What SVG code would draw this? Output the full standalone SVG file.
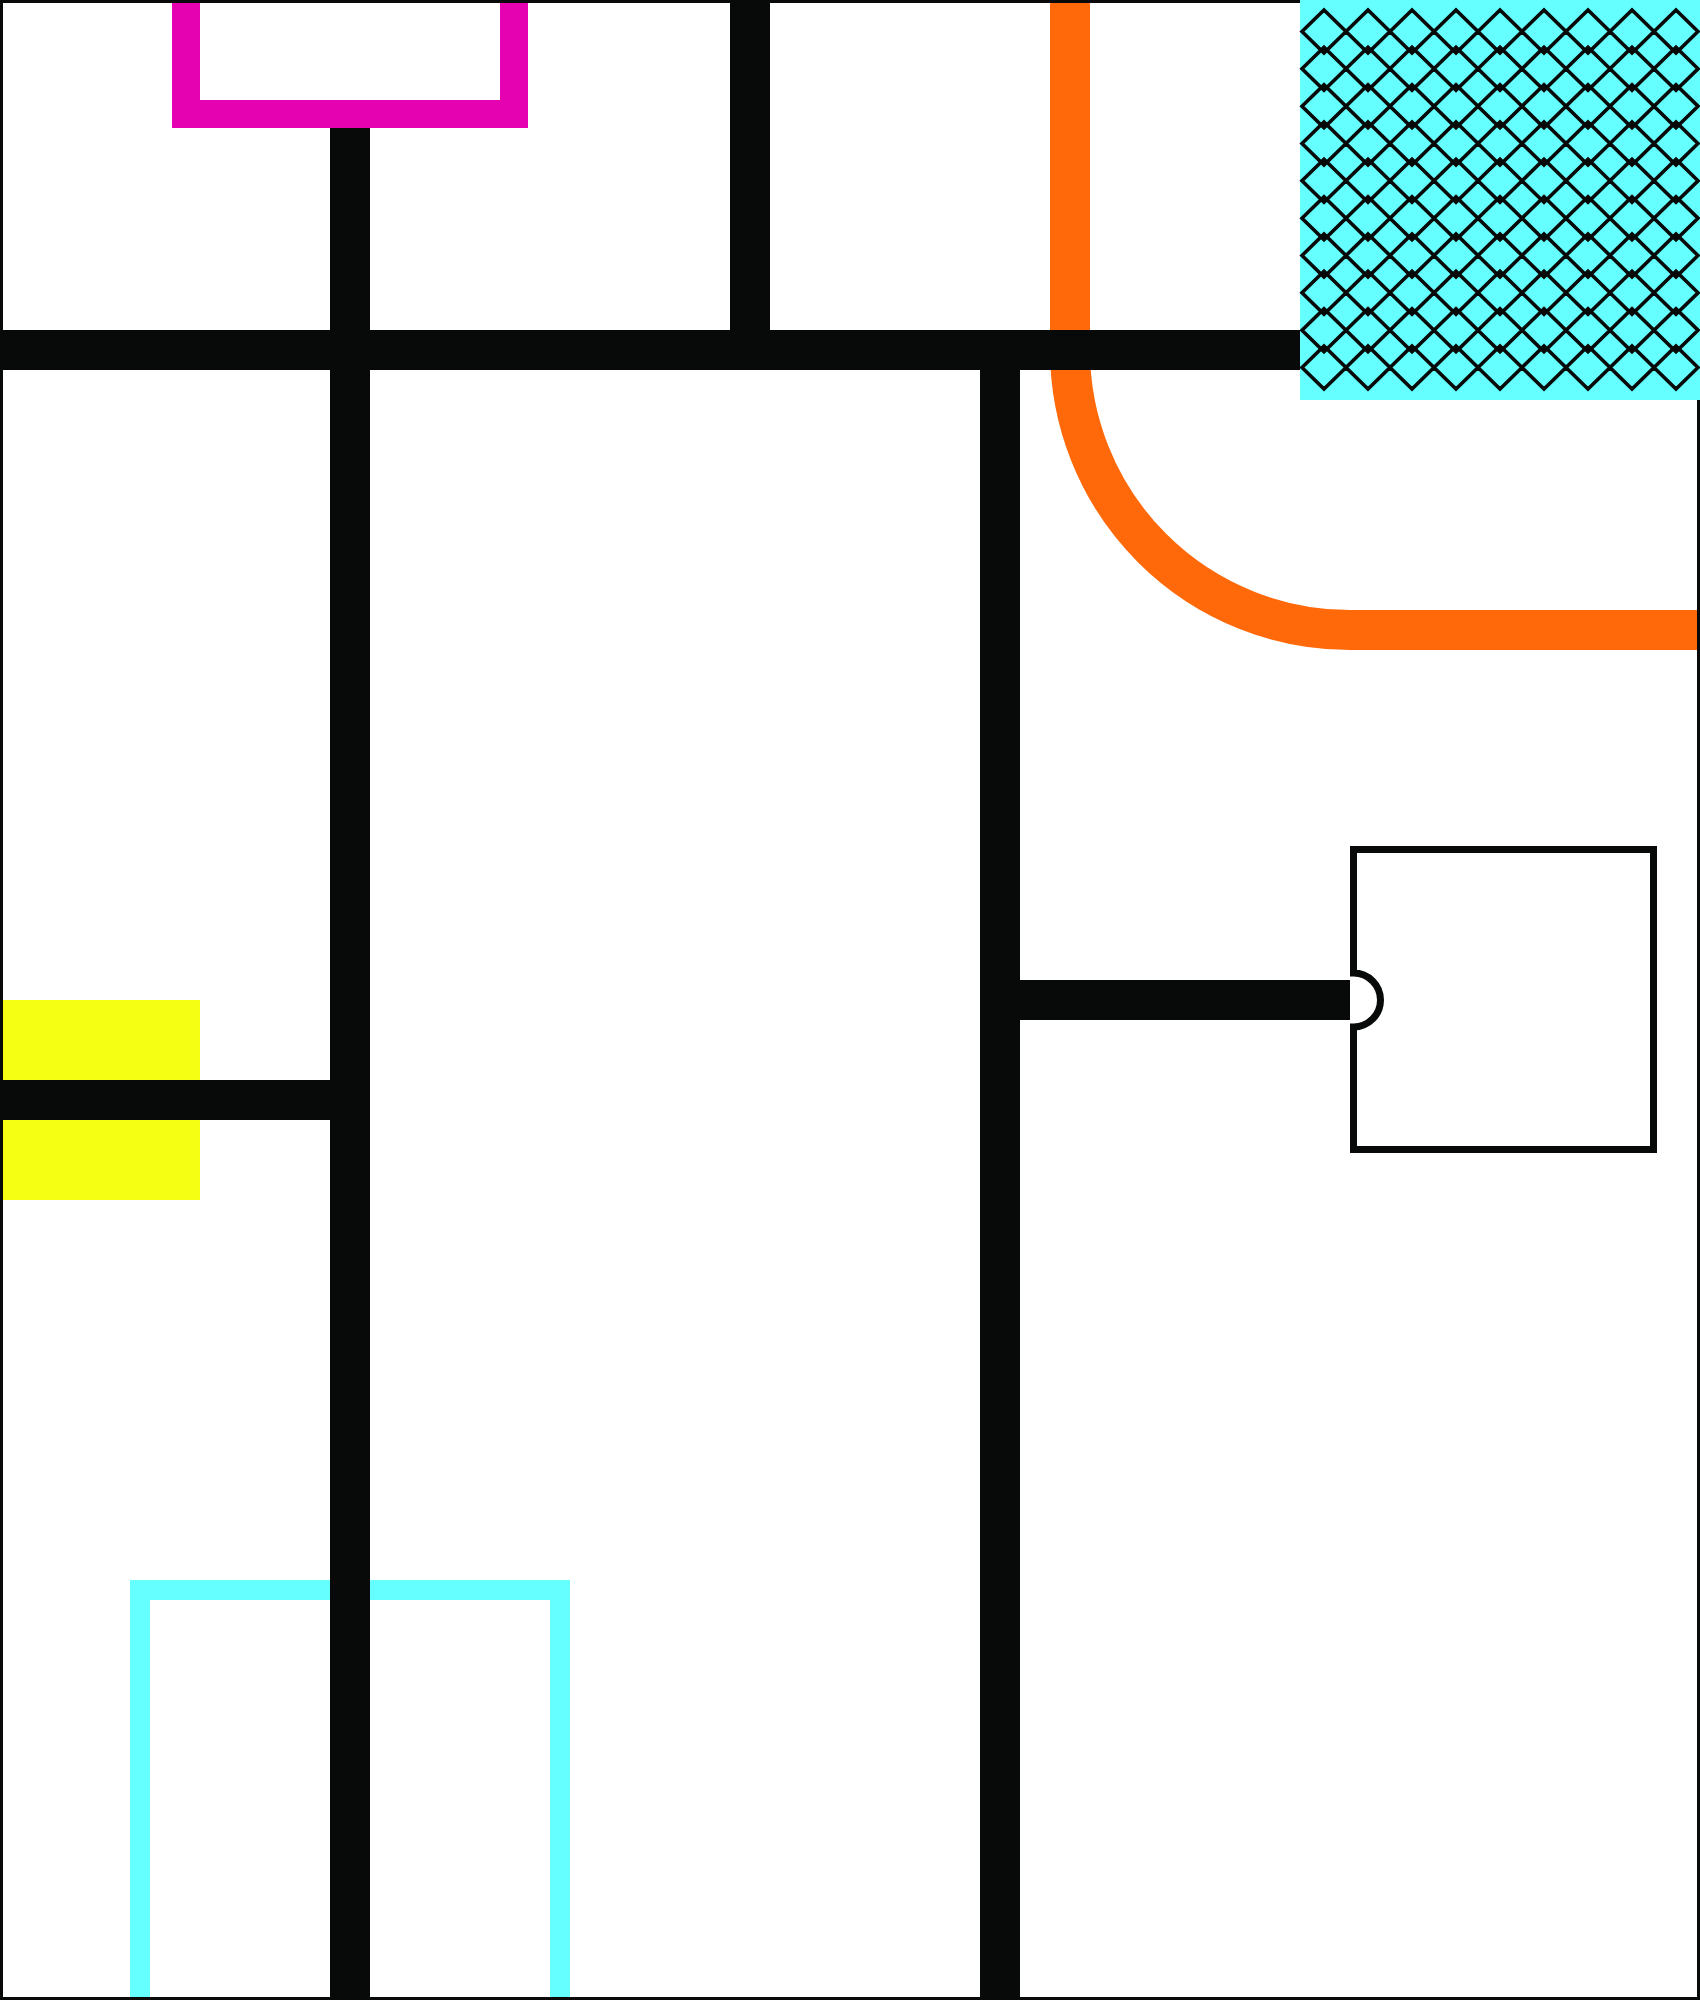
<svg xmlns="http://www.w3.org/2000/svg" width="1700" height="2000" viewBox="0 0 1700 2000">
<style>
.bar{fill:#080a09}
.hatch{fill:none;stroke:#080a09;stroke-width:3.6;stroke-linejoin:miter}
</style>
<defs>
<path id="row" d="M1302,0 L1324,-21.5 L1346,0 L1324,21.5 Z M1346,0 L1368,-21.5 L1390,0 L1368,21.5 Z M1390,0 L1412,-21.5 L1434,0 L1412,21.5 Z M1434,0 L1456,-21.5 L1478,0 L1456,21.5 Z M1478,0 L1500,-21.5 L1522,0 L1500,21.5 Z M1522,0 L1544,-21.5 L1566,0 L1544,21.5 Z M1566,0 L1588,-21.5 L1610,0 L1588,21.5 Z M1610,0 L1632,-21.5 L1654,0 L1632,21.5 Z M1654,0 L1676,-21.5 L1698,0 L1676,21.5 Z"/>
</defs>
<rect x="0" y="0" width="1700" height="2000" fill="#ffffff"/>
<g id="yellow-block"><rect x="0" y="1000" width="200" height="200" fill="#f5ff14"/></g>
<g id="cyan-frame"><path d="M140,2000 V1590 H560 V2000" fill="none" stroke="#66ffff" stroke-width="20"/></g>
<g id="magenta-frame"><path d="M186,0 V114 H514 V0" fill="none" stroke="#e502b0" stroke-width="28"/></g>
<g id="connectors">
<path d="M1070,0 V350 A280,280 0 0 0 1350,630 H1698" fill="none" stroke="#ff690a" stroke-width="40"/>
<rect class="bar" x="0" y="330" width="1300" height="40"/>
<rect class="bar" x="330" y="128" width="40" height="1872"/>
<rect class="bar" x="730" y="0" width="40" height="330"/>
<rect class="bar" x="980" y="370" width="40" height="1630"/>
<rect class="bar" x="0" y="1080" width="330" height="40"/>
<rect class="bar" x="1020" y="980" width="330" height="40"/>
</g>
<g id="notched-node"><path d="M1353.5,849.5 H1653.5 V1149.5 H1353.5 V1027 A27,27 0 0 0 1353.5,973 Z" fill="#ffffff" stroke="#080a09" stroke-width="7"/></g>
<rect x="1.5" y="1.5" width="1697" height="1997" fill="none" stroke="#080a09" stroke-width="3"/>
<g id="hatched-block">
<rect x="1300" y="0" width="400" height="400" fill="#66ffff"/>
<use href="#row" class="hatch" transform="translate(0,31.5)"/>
<use href="#row" class="hatch" transform="translate(0,68.83)"/>
<use href="#row" class="hatch" transform="translate(0,106.17)"/>
<use href="#row" class="hatch" transform="translate(0,143.5)"/>
<use href="#row" class="hatch" transform="translate(0,180.83)"/>
<use href="#row" class="hatch" transform="translate(0,218.17)"/>
<use href="#row" class="hatch" transform="translate(0,255.5)"/>
<use href="#row" class="hatch" transform="translate(0,292.83)"/>
<use href="#row" class="hatch" transform="translate(0,330.17)"/>
<use href="#row" class="hatch" transform="translate(0,367.5)"/>
</g>
</svg>
